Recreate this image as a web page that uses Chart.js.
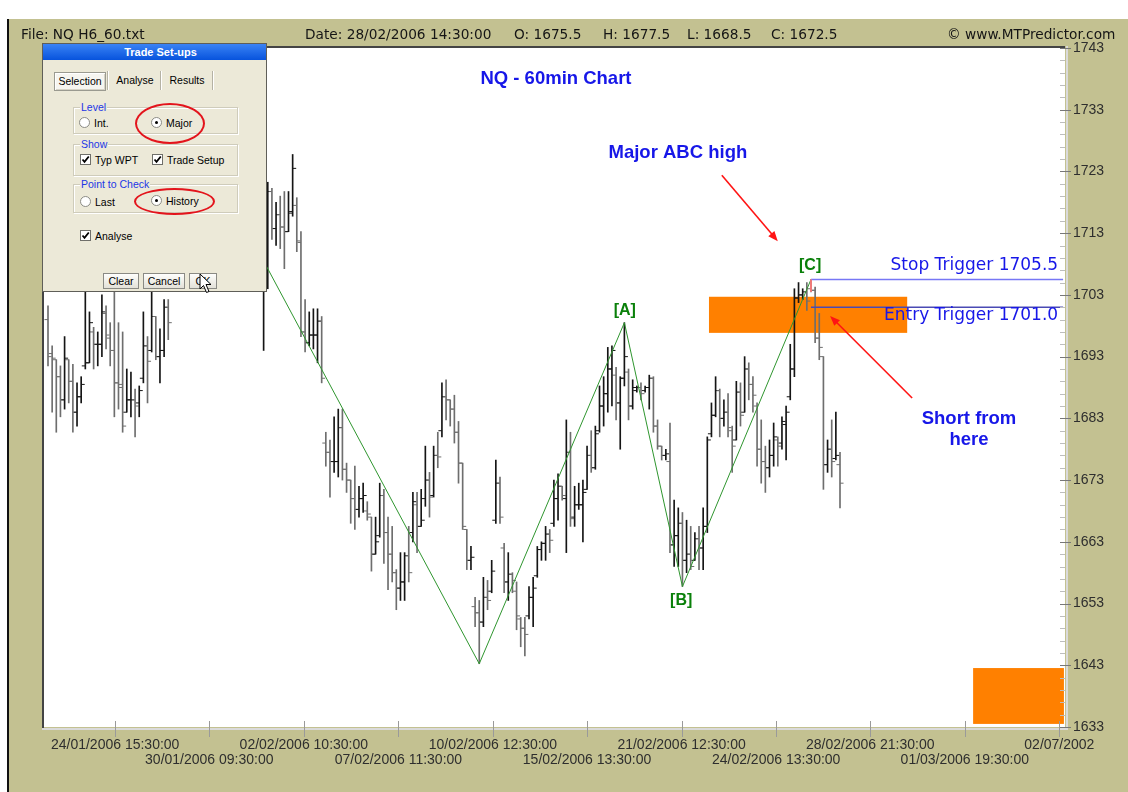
<!DOCTYPE html>
<html>
<head>
<meta charset="utf-8">
<script src="https://cdn.jsdelivr.net/npm/chart.js@4.4.1/dist/chart.umd.min.js"></script>
<style>
  html, body { margin: 0; padding: 0; width: 1128px; height: 792px; overflow: hidden; background: #fff; }
  #bg { position: absolute; left: 7px; top: 19px; width: 1121px; height: 773px; background: #c3c191; border-left: 2px solid #111; box-sizing: border-box; }
  #chart { position: absolute; left: 0; top: 0; }
  .hdr { position: absolute; top: 25px; font: 13.7px "DejaVu Sans", sans-serif; color: #151515; line-height: 19px; white-space: pre; }
  #dlg { position: absolute; left: 42px; top: 43px; width: 225px; height: 249px; background: #ece9d8; border: 1px solid #5f5e58; box-sizing: border-box; font: 10.5px "Liberation Sans", Arial, sans-serif; color: #000; }
  #dlg div { position: absolute; }
  #dlg .title { left: 0; top: 0; right: 0; height: 16px; background: linear-gradient(#3a83f5, #0753dd); color: #fff; font-weight: bold; font-size: 11px; line-height: 16px; text-align: center; padding-left: 12px; box-sizing: border-box; }
  #dlg .tab { top: 28px; height: 17px; line-height: 17px; text-align: center; }
  #dlg .sel { border: 1px solid #9a9a90; background: #f6f5f0; box-shadow: inset 1px 1px 0 #fff, inset -1px -1px 0 #d6d3c6; }
  #dlg .sep { top: 27px; width: 1px; height: 19px; background: #b5b2a4; box-shadow: 1px 0 0 #fff; }
  #dlg .grp { left: 30px; width: 165px; border: 1px solid #cfccbb; box-shadow: inset 1px 1px 0 #fff, 1px 1px 0 #fff; box-sizing: border-box; }
  #dlg .glab { left: 6px; top: -7px; padding: 0 1px; background: #ece9d8; color: #2236e6; line-height: 12px; white-space: nowrap; }
  #dlg .radio { width: 11px; height: 11px; border-radius: 50%; border: 1px solid #8c8c86; background: #fff; box-sizing: border-box; }
  #dlg .dot { left: 3px; top: 3px; width: 3px; height: 3px; border-radius: 50%; background: #000; }
  #dlg .chk { width: 11px; height: 11px; border: 1px solid #6f6f6a; background: #fff; box-sizing: border-box; }
  #dlg .lbl { line-height: 12px; white-space: nowrap; }
  #dlg .btn { top: 229px; height: 16px; line-height: 15px; text-align: center; border: 1px solid #8a8a84; background: linear-gradient(#fefefc, #e3e1d8); box-sizing: border-box; }
  #dlg .ring { border: 2px solid #e3141c; border-radius: 50%; box-sizing: border-box; }
</style>
</head>
<body>
<div id="bg"></div>
<canvas id="chart" width="1128" height="792"></canvas>

<div class="hdr" style="left:21px">File: NQ H6_60.txt</div>
<div class="hdr" style="left:305px">Date: 28/02/2006 14:30:00</div>
<div class="hdr" style="left:514px">O: 1675.5</div>
<div class="hdr" style="left:603px">H: 1677.5</div>
<div class="hdr" style="left:687px">L: 1668.5</div>
<div class="hdr" style="left:771px">C: 1672.5</div>
<div class="hdr" style="left:947px">© www.MTPredictor.com</div>

<div id="dlg">
  <div class="title">Trade Set-ups</div>
  <div class="tab sel" style="left:11px;width:50px">Selection</div>
  <div class="sep" style="left:64px"></div>
  <div class="tab" style="left:66px;width:52px">Analyse</div>
  <div class="sep" style="left:117px"></div>
  <div class="tab" style="left:119px;width:50px">Results</div>
  <div class="sep" style="left:169px"></div>

  <div class="grp" style="top:63px;height:27px"><div class="glab">Level</div></div>
  <div class="radio" style="left:36px;top:73px"></div>
  <div class="lbl" style="left:51px;top:73px">Int.</div>
  <div class="radio" style="left:108px;top:73px"><div class="dot"></div></div>
  <div class="lbl" style="left:123px;top:73px">Major</div>

  <div class="grp" style="top:100px;height:32px"><div class="glab">Show</div></div>
  <div class="chk" style="left:37px;top:110px"><svg width="9" height="9" style="position:absolute;left:0;top:0"><path d="M1.5 4.5 L3.5 6.8 L7.8 1.5" stroke="#000" stroke-width="1.8" fill="none"/></svg></div>
  <div class="lbl" style="left:52px;top:110px">Typ WPT</div>
  <div class="chk" style="left:109px;top:110px"><svg width="9" height="9" style="position:absolute;left:0;top:0"><path d="M1.5 4.5 L3.5 6.8 L7.8 1.5" stroke="#000" stroke-width="1.8" fill="none"/></svg></div>
  <div class="lbl" style="left:124px;top:110px">Trade Setup</div>

  <div class="grp" style="top:140px;height:29px"><div class="glab">Point to Check</div></div>
  <div class="radio" style="left:37px;top:152px"></div>
  <div class="lbl" style="left:52px;top:152px">Last</div>
  <div class="radio" style="left:108px;top:151px"><div class="dot"></div></div>
  <div class="lbl" style="left:123px;top:151px">History</div>

  <div class="chk" style="left:37px;top:186px"><svg width="9" height="9" style="position:absolute;left:0;top:0"><path d="M1.5 4.5 L3.5 6.8 L7.8 1.5" stroke="#000" stroke-width="1.8" fill="none"/></svg></div>
  <div class="lbl" style="left:52px;top:186px">Analyse</div>

  <div class="btn" style="left:60px;width:36px">Clear</div>
  <div class="btn" style="left:100px;width:42px">Cancel</div>
  <div class="btn" style="left:146px;width:28px">OK</div>

  <div class="ring" style="left:92px;top:59px;width:70px;height:41px"></div>
  <div class="ring" style="left:91px;top:144px;width:81px;height:27px"></div>
</div>
<svg width="14" height="22" style="position:absolute;left:199px;top:273px">
  <path d="M1 1 L1 16 L4.5 12.5 L7.5 19.5 L10 18.5 L7 11.5 L12 11.5 Z" fill="#fff" stroke="#000" stroke-width="1"/>
</svg>

<script>
// bar data (NQ H6 60-minute)
const highs = [
  1701.25,1694.75,1692.5,1691.5,1696.25,1692.5,1691.75,1688.75,1689.75,1706,
  1700.25,1697.75,1697,1703,1701.25,1698.5,1703.5,1698.5,1697,1691,
  1690.5,1687.75,1688.25,1700.25,1696.25,1703.5,1699.5,1697.5,1702.25,1702.25,
  1706.5,1709,1710.5,1708,1712,1714.5,1715,1713,1711,1710,
  1713.5,1716,1717,1715,1713,1715.5,1716.5,1714.5,1712,1710,
  1711,1709,1708,1721.25,1720.25,1718,1719,1719.75,1719.75,1725.75,
  1718.75,1713.25,1702.25,1700.25,1700.75,1700.75,1699.5,1680.75,1679.5,1683.25,
  1684.5,1684.5,1675.75,1673,1675.25,1672,1672.5,1669.5,1667,1667,
  1672.5,1671.5,1667,1665.5,1658.5,1661.25,1661.25,1665.5,1671,1671,
  1671.5,1678.5,1674.25,1678.5,1680.75,1688.75,1689.25,1686,1686.75,1682.5,
  1675.75,1665,1662.25,1654,1653.5,1657.25,1656.75,1660,1676.25,1673.5,
  1662.75,1661.25,1658,1656.5,1650.75,1650.75,1655.75,1657.25,1662.25,1663,
  1665.5,1665,1673,1674,1672,1682.75,1680.75,1672,1672.5,1673,
  1678.5,1681,1681.75,1688.25,1689.75,1694.5,1694.75,1691.25,1689.75,1698.5,
  1691,1689.25,1688.25,1688.75,1688.25,1690,1689.75,1682.75,1678.5,1678,
  1682.25,1669.75,1668.5,1667.75,1666.5,1665.5,1664.5,1665.5,1668.5,1680,
  1685.5,1689.75,1687.75,1686,1687,1681.75,1689,1688.75,1693,1692,
  1689.75,1685.5,1682.75,1678.5,1679.5,1682.25,1680,1683.25,1685,1695,
  1704,1705,1704,1705,1705.5,1704.25,1700,1693,1679.5,1682.75,
  1684,1677.5
];
const lows = [
  1691.5,1684,1680.75,1683.25,1684.5,1685.5,1680.75,1681.75,1685.5,1691,
  1692,1691,1691.5,1693,1694.25,1691.5,1683.25,1684.5,1680.75,1684,
  1683.25,1680,1683.25,1688.75,1685.5,1693.75,1692.5,1688.75,1693,1695.75,
  1704,1704.5,1705,1704.25,1706,1709,1710,1707.5,1705.5,1705,
  1707,1711,1712,1710,1708,1710.5,1712,1709,1706.5,1705,
  1705.5,1704.5,1694,1704,1712,1711,1710.5,1707.25,1713.25,1715.75,
  1710,1696.25,1693.75,1694.75,1694.25,1692,1688.75,1675.25,1670.25,1674.25,
  1673.5,1673,1671,1666,1665,1667,1667.75,1666.5,1658.25,1661,
  1663.75,1659.5,1655.25,1656.5,1652,1653.5,1653.5,1656.5,1663,1661.25,
  1665.5,1668.75,1667,1670.25,1675,1680,1682.75,1681.75,1679,1672.5,
  1665,1658.5,1658.5,1649.25,1643.25,1649.25,1652,1654.75,1666,1666,
  1654.75,1653.5,1654.75,1648.75,1646,1644.5,1650.5,1649.25,1657.25,1660,
  1660,1661.25,1665.5,1666.5,1669.75,1661.25,1665.5,1665.5,1668.25,1663,
  1671.5,1674.25,1674.75,1680.75,1681.75,1684,1685,1682.75,1678,1688.25,
  1682.75,1684.5,1687.25,1686,1687.25,1684.5,1680.75,1678,1676.25,1676.25,
  1661.25,1659,1659,1655.75,1658,1658.5,1660,1658.5,1658.5,1664.5,
  1680,1683.25,1680,1681.75,1680,1674.25,1679.5,1681.75,1684,1686,
  1684,1675.25,1672.5,1671,1673.5,1675.25,1675.25,1678,1676.25,1686,
  1689.75,1701.75,1702.25,1700.5,1703.5,1695.25,1692.5,1671.5,1674.25,1673.5,
  1676.25,1668.5
];
const opens = [
  1699,1693.5,1692.5,1689.75,1686,1692.5,1689,1684,1686.5,1691.5,
  1692,1697,1695,1695,1700,1696,1694,1688.75,1688,1684,
  1686,1686,1685.5,1689.5,1694.75,1694,1699.5,1693,1694,1701,
  1704.5,1705,1707.5,1706,1707,1711,1713,1711,1709,1707,
  1708.5,1712.5,1714,1713,1711,1712,1714.5,1713,1710,1708,
  1707,1706,1706,1706.5,1719.75,1713.75,1716,1714,1713.25,1716.5,
  1717.5,1711.5,1697,1695.25,1696.5,1696.5,1698.75,1679,1677.5,1676,
  1676,1681.5,1674.75,1673,1670,1668.25,1670,1668,1667,1661,
  1664,1670.5,1664.5,1661,1658,1655.5,1656.5,1660.75,1664.5,1669,
  1665.5,1670,1673,1670.5,1677,1681,1686.5,1686,1684.5,1680.75,
  1675.75,1665,1660,1652.5,1651.5,1650,1654,1655,1666.5,1672.5,
  1662,1656.5,1657.75,1655,1650.5,1649,1651,1654,1657.5,1661.75,
  1662.75,1664.25,1666,1670,1672,1670,1677.5,1667,1669,1669,
  1671.5,1677,1675,1681,1685,1687,1691,1690,1685.5,1689.5,
  1690.5,1685,1687.5,1688,1687.5,1688,1689.5,1681.75,1678.5,1677,
  1676,1662.5,1664,1666,1660,1661,1660,1663.5,1662,1665.5,
  1680.5,1683.5,1687.5,1683,1684,1681,1679.5,1687.25,1684,1691,
  1688.5,1685,1678,1676,1675,1677,1679.5,1679,1682,1686.5,
  1691,1702.5,1703,1703.5,1704,1703.75,1696,1693,1675.5,1678,
  1676.5,1675.5
];
const closes = [
  1693,1692.75,1689.75,1686,1692.75,1689,1684,1686.5,1688.5,1692,
  1698.5,1695,1695,1700.25,1696.5,1694,1688.75,1688.5,1681.75,1686,
  1686,1685,1687.5,1694.75,1692.25,1699.5,1693,1694,1701,1698.5,
  1705,1707.5,1706,1707,1711,1713,1711,1709,1707,1708.5,
  1712.5,1714,1713,1711,1712,1714.5,1713,1710,1708,1707,
  1706,1706,1706.5,1719.75,1713.75,1716,1714,1713.25,1716.25,1723.5,
  1711.75,1697,1695.25,1696.5,1696.5,1698.75,1689.5,1677.5,1676,1676,
  1681.5,1674.75,1673,1670,1668.25,1670,1670.5,1667.5,1661,1663,
  1670.5,1664.5,1661,1658,1655.5,1656.5,1660.75,1658,1669.5,1665.5,
  1666.5,1673,1670.25,1677,1676.75,1686.5,1686,1684.5,1680.75,1675.75,
  1665.5,1660,1660.5,1651.5,1650,1654,1653.5,1658.25,1672.5,1667,
  1656.5,1657.75,1656.75,1651,1649,1648,1654,1655.5,1661.75,1662.75,
  1664.25,1663.25,1670,1672,1670.5,1677.5,1666.75,1669,1669,1671,
  1677,1675,1680.5,1685,1687,1691,1694,1685.5,1689.5,1693,
  1685,1688,1688,1687,1688,1689.5,1681.75,1678.5,1677,1677.25,
  1662.5,1664,1666,1660,1661,1659,1663.5,1662,1665.5,1679.5,
  1683.5,1687.5,1683,1684,1681.5,1678.5,1687.25,1683.5,1691,1688.5,
  1686.75,1678,1676,1675,1677,1680,1678.5,1682.5,1684,1691,
  1702.5,1703,1703.5,1702,1703.75,1696,1694.5,1675.5,1678,1676,
  1677,1672.5
];

// ABC swing points [bar, price]
const swingBars = [51, 104, 139, 153, 184];
const swingPrices = [1709.75, 1643.25, 1698.5, 1655.75, 1705.5];
const cBar = 184;
const stopLevel = 1705.5;
const entryLevel = 1701.0;

// axes
const xTickIdx = [16.2, 38.9, 61.7, 84.5, 107.3, 130.0, 152.8, 175.6, 198.3, 221.1, 243.9];
const xTickLabels = ['24/01/2006 15:30:00', '30/01/2006 09:30:00', '02/02/2006 10:30:00', '07/02/2006 11:30:00',
  '10/02/2006 12:30:00', '15/02/2006 13:30:00', '21/02/2006 12:30:00', '24/02/2006 13:30:00',
  '28/02/2006 21:30:00', '01/03/2006 19:30:00', '02/07/2002'];
const yTicks = [1633, 1643, 1653, 1663, 1673, 1683, 1693, 1703, 1713, 1723, 1733, 1743];

// annotation layout (data coordinates)
const X_MIN = -0.965, X_MAX = 245.26, LINE_END = 244.8;
const BLUE = '#1717e8', GREEN = '#0a800a', RED = '#ff1414';
const BOLD = 'bold 18.5px "Liberation Sans", Arial';
const zones = [
  { x0: 159.4, x1: 207.2, y0: 1696.85, y1: 1702.7 },
  { x0: 223.1, x1: 245.0, y0: 1633.5, y1: 1642.55 },
];
const notes = [
  { text: 'NQ - 60min Chart', x: 122.5, y: 1738.0, font: BOLD, color: BLUE, align: 'center' },
  { text: 'Major ABC high', x: 151.9, y: 1726.0, font: BOLD, color: BLUE, align: 'center' },
  { text: 'Short from', x: 222.1, y: 1682.9, font: BOLD, color: BLUE, align: 'center' },
  { text: 'here', x: 222.1, y: 1679.5, font: BOLD, color: BLUE, align: 'center' },
  { text: 'Stop Trigger 1705.5', x: 243.6, y: 1707.7, font: '17px "DejaVu Sans", sans-serif', color: BLUE, align: 'right' },
  { text: 'Entry Trigger 1701.0', x: 243.6, y: 1699.6, font: '17px "DejaVu Sans", sans-serif', color: BLUE, align: 'right' },
  { text: '[A]', x: 139.1, y: 1700.4, font: 'bold 16px "Liberation Sans", Arial', color: GREEN, align: 'center' },
  { text: '[B]', x: 152.7, y: 1653.4, font: 'bold 16px "Liberation Sans", Arial', color: GREEN, align: 'center' },
  { text: '[C]', x: 183.8, y: 1707.7, font: 'bold 16px "Liberation Sans", Arial', color: GREEN, align: 'center' },
];
const arrows = [
  { from: [162.5, 1722.4], to: [176.0, 1711.7] },
  { from: [208.4, 1686.3], to: [188.6, 1699.6] },
];

function drawArrow(ctx, x1, y1, x2, y2) {
  const a = Math.atan2(y2 - y1, x2 - x1), len = 10, w = 4;
  ctx.beginPath();
  ctx.moveTo(x1, y1);
  ctx.lineTo(x2 - Math.cos(a) * len * 0.8, y2 - Math.sin(a) * len * 0.8);
  ctx.stroke();
  ctx.beginPath();
  ctx.moveTo(x2, y2);
  ctx.lineTo(x2 - len * Math.cos(a) + w * Math.sin(a), y2 - len * Math.sin(a) - w * Math.cos(a));
  ctx.lineTo(x2 - len * Math.cos(a) - w * Math.sin(a), y2 - len * Math.sin(a) + w * Math.cos(a));
  ctx.closePath();
  ctx.fill();
}

const decor = {
  id: 'decor',
  beforeDraw(chart) {
    const { ctx, chartArea: a } = chart;
    ctx.save();
    ctx.fillStyle = '#fff';
    ctx.fillRect(a.left, a.top, a.right - a.left, a.bottom - a.top);
    ctx.restore();
  },
  beforeDatasetsDraw(chart) {
    const { ctx, scales: { x, y } } = chart;
    ctx.save();
    ctx.fillStyle = '#ff8000';
    zones.forEach(z => {
      const l = x.getPixelForValue(z.x0), r = x.getPixelForValue(z.x1);
      const t = y.getPixelForValue(z.y1), b = y.getPixelForValue(z.y0);
      ctx.fillRect(l, t, r - l, b - t);
    });
    ctx.restore();
  },
  afterDraw(chart) {
    const { ctx, chartArea: a, scales: { x, y } } = chart;
    ctx.save();
    // sunken frame round the plot
    ctx.fillStyle = '#444';
    ctx.fillRect(a.left - 2, a.top - 2, a.right - a.left + 2, 2);
    ctx.fillRect(a.left - 2, a.top - 2, 2, a.bottom - a.top + 3);
    ctx.fillStyle = '#dadada';
    ctx.fillRect(a.left - 2, a.bottom + 1, a.right - a.left + 5, 2);
    ctx.fillRect(a.right + 1, a.top - 2, 2, a.bottom - a.top + 5);
    // price tick marks
    ctx.lineWidth = 1;
    for (let v = yTicks[0]; v <= yTicks[yTicks.length - 1]; v += 2) {
      const py = Math.round(y.getPixelForValue(v)) + 0.5;
      const major = yTicks.includes(v);
      ctx.strokeStyle = major ? '#777' : '#bdbdbd';
      ctx.beginPath();
      ctx.moveTo(a.right - 5, py);
      ctx.lineTo(major ? a.right + 6 : a.right, py);
      ctx.stroke();
    }
    // time tick marks
    ctx.strokeStyle = '#9a9a9a';
    xTickIdx.forEach(v => {
      const px = Math.round(x.getPixelForValue(v)) + 0.5;
      ctx.beginPath();
      ctx.moveTo(px, a.bottom - 6);
      ctx.lineTo(px, a.bottom + 10);
      ctx.stroke();
    });
    // arrows
    ctx.strokeStyle = RED;
    ctx.fillStyle = RED;
    ctx.lineWidth = 1.6;
    arrows.forEach(ar => drawArrow(ctx,
      x.getPixelForValue(ar.from[0]), y.getPixelForValue(ar.from[1]),
      x.getPixelForValue(ar.to[0]), y.getPixelForValue(ar.to[1])));
    // texts
    ctx.textBaseline = 'middle';
    notes.forEach(n => {
      ctx.font = n.font;
      ctx.fillStyle = n.color;
      ctx.textAlign = n.align;
      ctx.fillText(n.text, x.getPixelForValue(n.x), y.getPixelForValue(n.y));
    });
    ctx.restore();
  }
};

const bars = highs.map((h, i) => i);
const barColors = bars.map(i => (closes[i] >= opens[i] ? '#151515' : '#6e6e6e'));

new Chart(document.getElementById('chart'), {
  type: 'bar',
  data: {
    datasets: [
      {
        type: 'bar',
        data: bars.map(i => ({ x: i, y: [lows[i], highs[i]] })),
        backgroundColor: barColors,
        borderWidth: 0,
        barThickness: 1,
        grouped: false,
        order: 3,
      },
      {
        type: 'scatter',
        data: bars.map(i => ({ x: i - 0.42, y: opens[i] })),
        pointStyle: 'line',
        pointRadius: 1.8,
        pointBorderWidth: 1,
        pointBorderColor: barColors,
        order: 3,
      },
      {
        type: 'scatter',
        data: bars.map(i => ({ x: i + 0.42, y: closes[i] })),
        pointStyle: 'line',
        pointRadius: 1.8,
        pointBorderWidth: 1,
        pointBorderColor: barColors,
        order: 3,
      },
      {
        type: 'line',
        data: swingBars.map((b, k) => ({ x: b, y: swingPrices[k] })),
        borderColor: '#2f962f',
        borderWidth: 1,
        pointRadius: 0,
        order: 2,
      },
      {
        type: 'line',
        data: [{ x: cBar, y: highs[cBar] }, { x: cBar, y: lows[cBar] }],
        borderColor: '#ff7a7a',
        borderWidth: 1,
        pointRadius: 0,
        order: 1,
      },
      {
        type: 'line',
        data: [{ x: cBar, y: stopLevel }, { x: LINE_END, y: stopLevel }],
        borderColor: '#7777f5',
        borderWidth: 1.5,
        pointRadius: 0,
        order: 1,
      },
      {
        type: 'line',
        data: [{ x: cBar, y: entryLevel }, { x: LINE_END, y: entryLevel }],
        borderColor: '#4a4ab4',
        borderWidth: 1.5,
        pointRadius: 0,
        order: 1,
      },
    ],
  },
  options: {
    responsive: false,
    animation: false,
    events: [],
    layout: { padding: { left: 44, top: 48, right: 0, bottom: 0 } },
    plugins: { legend: { display: false }, tooltip: { enabled: false } },
    scales: {
      x: {
        type: 'linear',
        min: X_MIN,
        max: X_MAX,
        offset: false,
        grid: { display: false, drawTicks: false },
        border: { display: false },
        afterBuildTicks: s => { s.ticks = xTickIdx.map(v => ({ value: v })); },
        afterFit: s => { s.height = 65; },
        ticks: {
          autoSkip: false,
          maxRotation: 0,
          padding: 11,
          color: '#2e2e2e',
          font: { family: '"Liberation Sans", Arial, sans-serif', size: 14, lineHeight: 1.07 },
          callback: (v, i) => (i % 2 ? ['', xTickLabels[i]] : xTickLabels[i]),
        },
      },
      y: {
        type: 'linear',
        position: 'right',
        min: yTicks[0],
        max: yTicks[yTicks.length - 1],
        grid: { display: false, drawTicks: false },
        border: { display: false },
        afterBuildTicks: s => { s.ticks = yTicks.map(v => ({ value: v })); },
        afterFit: s => { s.width = 63; },
        ticks: {
          autoSkip: false,
          padding: 8,
          color: '#2e2e2e',
          font: { family: '"Liberation Sans", Arial, sans-serif', size: 14 },
          callback: v => String(v),
        },
      },
    },
  },
  plugins: [decor],
});
</script>
</body>
</html>
